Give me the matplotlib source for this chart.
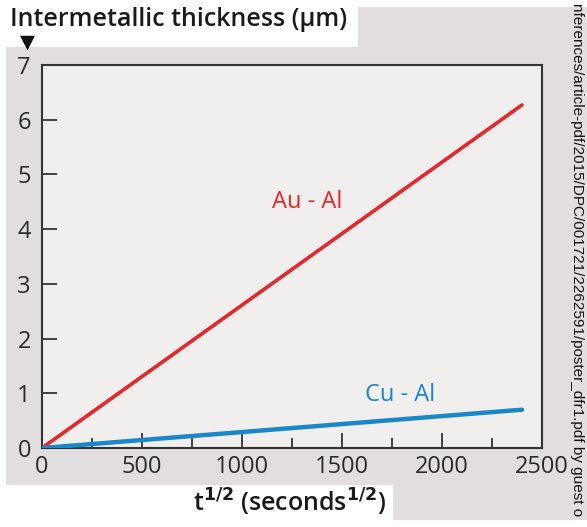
import matplotlib
matplotlib.use("Agg")
import matplotlib.pyplot as plt
from matplotlib.patches import Rectangle

# data
t_half = [0, 2400]          # seconds^1/2
au_al = [0, 6.27]           # um
cu_al = [0, 0.70]           # um

x_ticks = [0, 500, 1000, 1500, 2000, 2500]
y_ticks = [0, 1, 2, 3, 4, 5, 6, 7]

red = '#e8262a'
blue = '#1a87c9'
panel = '#e2dddf'
face = '#f1efee'

W, H = 587, 527
fig = plt.figure(figsize=(W / 100, H / 100), dpi=100)
fig.patch.set_facecolor('white')


def px_rect(x0, y0, x1, y1):
    # rectangle given in pixel coords (origin top-left)
    return Rectangle((x0 / W, 1 - y1 / H), (x1 - x0) / W, (y1 - y0) / H,
                     transform=fig.transFigure, facecolor=panel,
                     edgecolor='none', zorder=-5)


fig.patches.append(px_rect(6, 47, 587, 485))
fig.patches.append(px_rect(358, 7, 587, 47))
fig.patches.append(px_rect(393, 485, 587, 520))

ax = fig.add_axes([42 / W, 1 - 448 / H, 500 / W, 383 / H])
ax.set_zorder(2)
ax.set_facecolor(face)

ax.plot(t_half, au_al, color=red, lw=2.6, solid_capstyle='round', zorder=3)
ax.plot(t_half, cu_al, color=blue, lw=3.2, solid_capstyle='round', zorder=3)

ax.text(1150, 4.5, 'Au - Al', color=red, fontsize=17, family='Open Sans',
        va='center', ha='left')
ax.text(1615, 0.97, 'Cu - Al', color=blue, fontsize=17, family='Open Sans',
        va='center', ha='left')

ax.set_xlim(0, 2500)
ax.set_ylim(0, 7)
ax.set_xticks(x_ticks)
ax.set_xticks([250, 750, 1250, 1750, 2250], minor=True)
ax.set_yticks(y_ticks)
ax.tick_params(axis='both', which='major', direction='in', length=11,
               width=1.3, color='#333333', labelsize=17,
               labelcolor='#2a2a2a', pad=5)
ax.tick_params(axis='x', which='minor', direction='in', length=7,
               width=1.3, color='#333333')
ax.tick_params(axis='y', pad=8)
for lab in ax.get_xticklabels() + ax.get_yticklabels():
    lab.set_family('Open Sans')
for s in ax.spines.values():
    s.set_color('#333333')
    s.set_linewidth(1.5)

# y label at top, with down triangle
fig.text(10 / W, 1 - 20 / H, 'Intermetallic thickness (\u03bcm)',
         fontsize=18, family='Open Sans', fontweight='semibold',
         color='#1a1a1a', va='center', ha='left')
fig.text(27 / W, 1 - 42 / H, '\u25bc', fontsize=14, color='#111111',
         family='DejaVu Sans', va='center', ha='center')

fig.text(290 / W, 1 - 502 / H, r't$^{\mathbf{1/2}}$ (seconds$^{\mathbf{1/2}}$)',
         fontsize=18, family='Open Sans', fontweight='semibold',
         color='#1a1a1a', va='center', ha='center')

# side watermark
fig.text(577 / W, 1 - 3 / H,
         'nferences/article-pdf/2015/DPC/001721/2262591/poster_dfr1.pdf by guest o',
         rotation=-90, fontsize=11, family='Liberation Sans',
         color='#111111', va='top', ha='center')

fig.savefig('out.png', dpi=100, facecolor=fig.get_facecolor())
